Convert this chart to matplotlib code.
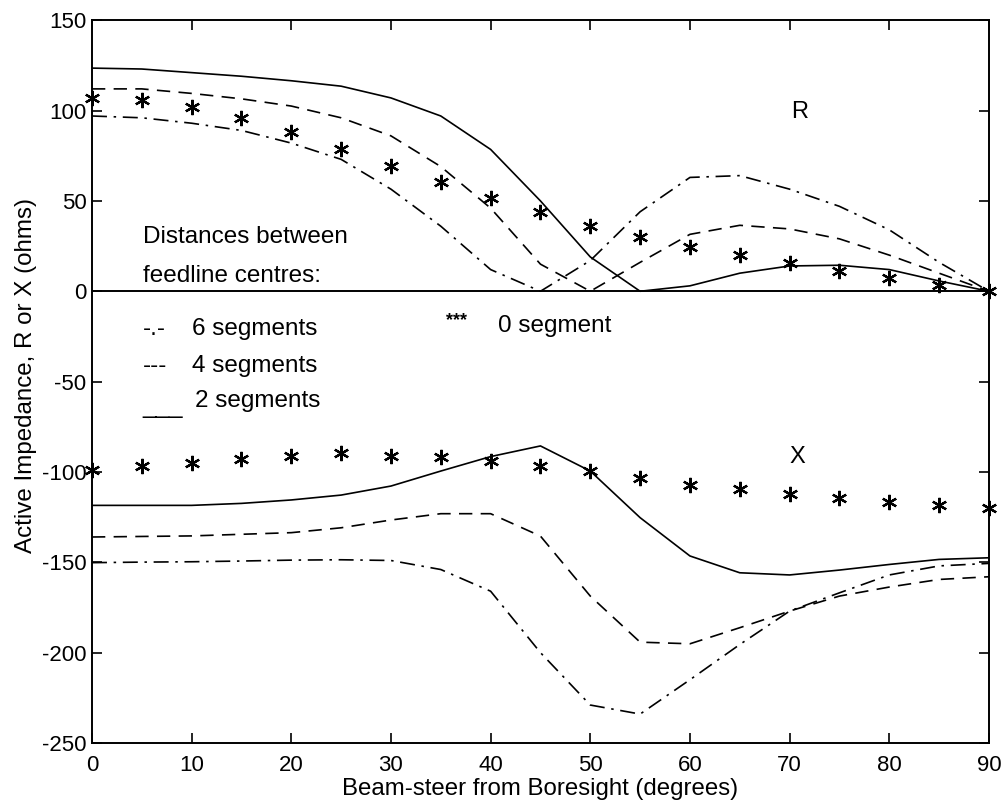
import numpy as np
import matplotlib as mpl
mpl.use('Agg')
import matplotlib.pyplot as plt

#
#--- beam-steer angles (degrees)
#
angle = [0, 5, 10, 15, 20, 25, 30, 35, 40, 45, 50, 55, 60, 65, 70, 75, 80, 85, 90]
#
#--- active resistance R (ohms)
#
r_seg6 = [97, 96, 93, 89, 82, 73, 56.5, 36, 12, 0, 17, 44, 63, 64, 56.5, 47, 34, 16, 0]
r_seg4 = [112, 112, 109.5, 106.5, 102.5, 96, 86, 69, 46, 15, 0, 16, 31.5, 36.5, 34.5, 29, 20, 10, 0]
r_seg2 = [123.5, 123, 121, 119, 116.5, 113.5, 107, 97, 78.5, 50, 19, 0, 3, 10, 14, 14.4, 12, 5.7, 0]
r_seg0 = [107, 106, 102, 96, 88, 78.6, 69.4, 60.5, 51.5, 43.6, 36, 30, 24.7, 20, 15.9, 11.3, 7.2, 3.5, 0]
#
#--- active reactance X (ohms)
#
x_seg6 = [-150.2, -149.9, -149.7, -149.3, -148.8, -148.6, -149, -154, -166, -200, -229, -234,
          -215, -195.5, -177, -166.9, -157, -152, -150.6]
x_seg4 = [-136, -135.7, -135.4, -134.5, -133.6, -130.9, -126.6, -123.1, -123.1, -135.5, -168.7,
          -194.2, -195.1, -186.2, -177, -168.7, -163.7, -159.5, -158]
x_seg2 = [-118.5, -118.5, -118.5, -117.4, -115.5, -112.8, -107.8, -99.5, -91.5, -85.6, -99.5,
          -125.3, -146.5, -155.8, -157, -154.3, -151.2, -148.4, -147.5]
x_seg0 = [-99.1, -96.7, -94.9, -92.7, -90.9, -89.7, -91.2, -91.7, -93.8, -96.7, -99.5, -103.2,
          -107.4, -109.3, -112.4, -114.3, -116.5, -118.5, -119.8]

xticks = [0, 10, 20, 30, 40, 50, 60, 70, 80, 90]
yticks = [150, 100, 50, 0, -50, -100, -150, -200, -250]

#
#--- general settings
#
plt.rcParams['font.family'] = ['Liberation Sans', 'DejaVu Sans']
plt.rcParams['font.size'] = 17.5
plt.rcParams['axes.unicode_minus'] = False

fig = plt.figure(figsize=(10.04, 8.09), dpi=100)
ax = fig.add_axes([0.0916, 0.0816, 0.8934, 0.8934])

lw = 1.2
dashdot = (0, (9, 4, 1.5, 4))
dashed = (0, (8, 5))
star = (6, 2, 0)
#
#--- R curves
#
ax.plot(angle, r_seg6, color='black', lw=lw, linestyle=dashdot)
ax.plot(angle, r_seg4, color='black', lw=lw, linestyle=dashed)
ax.plot(angle, r_seg2, color='black', lw=lw, linestyle='-')
ax.plot(angle, r_seg0, color='black', lw=0, marker=star, markersize=11, markeredgewidth=1.6,
        clip_on=False)
#
#--- X curves
#
ax.plot(angle, x_seg6, color='black', lw=lw, linestyle=dashdot)
ax.plot(angle, x_seg4, color='black', lw=lw, linestyle=dashed)
ax.plot(angle, x_seg2, color='black', lw=lw, linestyle='-')
ax.plot(angle, x_seg0, color='black', lw=0, marker=star, markersize=11, markeredgewidth=1.6,
        clip_on=False)
#
#--- zero line
#
ax.axhline(0, color='black', lw=1.4)
#
#--- labels in the plot
#
ax.text(71, 99, 'R', fontsize=17, ha='center', va='center')
ax.text(70.8, -91.5, 'X', fontsize=17, ha='center', va='center')

ax.text(5.1, 30, 'Distances between', va='center')
ax.text(5.1, 8.5, 'feedline centres:', va='center')
ax.text(5.1, -21, '-.-', va='center')
ax.text(10.0, -21, '6 segments', va='center')
ax.text(5.1, -41.5, '---', va='center')
ax.text(10.0, -41.5, '4 segments', va='center')
ax.text(5.1, -64, '___', va='center')
ax.text(10.3, -61, '2 segments', va='center')
ax.text(35.5, -16, '***', fontsize=13, va='center', fontweight='bold')
ax.text(40.7, -19.5, '0 segment', va='center')
#
#--- axes
#
ax.set_xlim(0, 90)
ax.set_ylim(-250, 150)
ax.set_xticks(xticks)
ax.set_yticks(yticks)
ax.tick_params(direction='in', length=7, width=1.2, top=True, right=True, labelsize=16)
ax.tick_params(axis='x', pad=9)
ax.tick_params(axis='y', pad=4)
for sp in ax.spines.values():
    sp.set_linewidth(1.4)

ax.set_xlabel('Beam-steer from Boresight (degrees)', fontsize=17.3, labelpad=1)
ax.set_ylabel('Active Impedance, R or X (ohms)', fontsize=17.4)
ax.yaxis.set_label_coords(-0.061, 0.509)

plt.savefig('out.png', dpi=100)
plt.close('all')
